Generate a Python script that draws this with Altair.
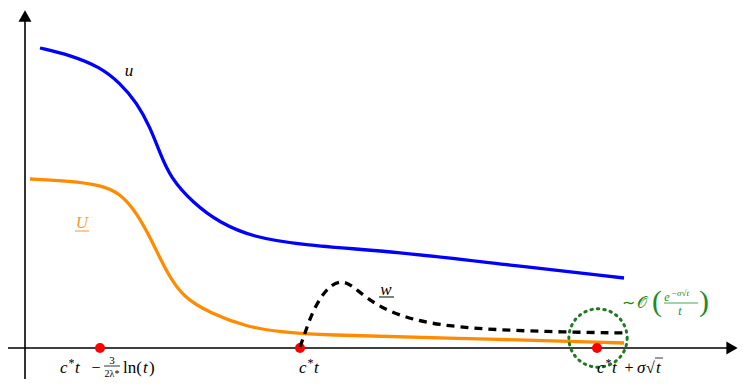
import altair as alt
import pandas as pd

# ---- data (coordinates: origin at axes crossing, 1 unit ~ 1 px) ----
u_x = [15, 45, 75, 95, 112, 125, 135, 145, 168, 195, 228, 275, 375, 475, 599]
u_y = [300, 293, 281, 265, 245, 221, 195, 171, 145, 125, 111, 103, 96, 84, 70]

U_x = [5, 45, 75, 95, 112, 128, 142, 158, 185, 222, 255, 295, 425, 599]
U_y = [169, 167, 163, 155, 135, 105, 75, 51, 35, 21, 16, 13, 10, 5]

w_x = [275, 280, 288, 302, 318, 332, 355, 388, 422, 472, 538, 599]
w_y = [1, 15, 38, 61, 69, 58, 40, 28, 22, 18, 16, 15]

pts_x = [75, 275, 572]
pts_y = [0, 0, 0]

circle_x = [573]
circle_y = [10]

X_DOM = [-17, 714]
Y_DOM = [-31, 340]

xs = alt.Scale(domain=X_DOM, nice=False, zero=False)
ys = alt.Scale(domain=Y_DOM, nice=False, zero=False)


def X(f="x"):
    return alt.X(f"{f}:Q", scale=xs, axis=None)


def Y(f="y"):
    return alt.Y(f"{f}:Q", scale=ys, axis=None)


def curve(xv, yv, color, dash=None):
    df = pd.DataFrame({"x": xv, "y": yv, "o": range(len(xv))})
    kw = dict(color=color, strokeWidth=3.3, interpolate="basis", clip=False)
    if dash:
        kw["strokeDash"] = dash
    return alt.Chart(df).mark_line(**kw).encode(x=X(), y=Y(), order="o:Q")


# axes
axis_df = pd.DataFrame({"x": [-17, 0], "x2": [706, 0], "y": [0, -31], "y2": [0, 330]})
axes = alt.Chart(axis_df).mark_rule(color="black", strokeWidth=1.6).encode(
    x=X(), x2="x2:Q", y=Y(), y2="y2:Q")
arr_r = alt.Chart(pd.DataFrame({"x": [707], "y": [0]})).mark_point(
    shape="triangle-right", size=170, filled=True, color="black", opacity=1).encode(x=X(), y=Y())
arr_u = alt.Chart(pd.DataFrame({"x": [0], "y": [332]})).mark_point(
    shape="triangle-up", size=170, filled=True, color="black", opacity=1).encode(x=X(), y=Y())

orange = curve(U_x, U_y, "#ff8c00")
blue = curve(u_x, u_y, "#0000ff")
dashed = curve(w_x, w_y, "black", dash=[8, 6])

points = alt.Chart(pd.DataFrame({"x": pts_x, "y": pts_y})).mark_point(
    shape="circle", size=100, filled=True, color="#ff0000", opacity=1).encode(x=X(), y=Y())

circ = alt.Chart(pd.DataFrame({"x": circle_x, "y": circle_y})).mark_point(
    shape="circle", size=3400, filled=False, color="#1e7a1e", strokeWidth=3,
    strokeDash=[1.5, 5], strokeCap="round", opacity=1).encode(x=X(), y=Y())

FONT = "Liberation Serif"


def txt(rows, size, color="black", style="italic", align="center"):
    df = pd.DataFrame(rows, columns=["x", "y", "t"])
    return alt.Chart(df).mark_text(
        font=FONT, fontSize=size, color=color, fontStyle=style, align=align,
        baseline="middle", clip=False).encode(x=X(), y=Y(), text="t:N")


def rules(rows, color, width=1):
    df = pd.DataFrame(rows, columns=["x", "x2", "y"])
    return alt.Chart(df).mark_rule(color=color, strokeWidth=width).encode(
        x=X(), x2="x2:Q", y=Y())


def cstar(x0, y0):
    return [
        txt([(x0, y0, "c")], 17, align="left"),
        txt([(x0 + 8.5, y0 + 5, "*")], 12, style="normal", align="left"),
        txt([(x0 + 15, y0, "t")], 17, align="left"),
    ]


green = "#228b22"
orange_txt = "#f59a2a"

labels = [
    txt([(104, 277, "u")], 17),
    txt([(57, 125, "U")], 17, color=orange_txt),
    rules([(50, 64, 117)], orange_txt),
    txt([(361, 58, "w")], 17),
    rules([(354, 369, 51)], "black"),
    # c*t - 3/(2λ*) ln(t)
    *cstar(35, -20),
    txt([(71, -20, "−")], 16, style="normal"),
    txt([(87, -13, "3")], 11, style="normal"),
    rules([(79, 95, -18)], "black", 0.8),
    txt([(87, -26, "2λ*")], 10, style="normal"),
    txt([(98, -20, "ln(")], 17, style="normal", align="left"),
    txt([(118, -20, "t")], 17, align="left"),
    txt([(124, -20, ")")], 17, style="normal", align="left"),
    # c*t
    *cstar(274, -20),
    # c*t + σ√t
    *cstar(572, -20),
    txt([(604, -20, "+")], 16, style="normal"),
    txt([(612, -20, "σ")], 17, align="left"),
    txt([(621, -20, "√")], 16, style="normal", align="left"),
    txt([(631, -20, "t")], 17, align="left"),
    rules([(630, 638, -10)], "black", 0.8),
    # green asymptotic label
    txt([(597, 45, "∼")], 16, color=green, style="normal", align="left"),
    txt([(612, 45, "𝒪")], 16, color=green, style="normal", align="left"),
    txt([(632, 46, "(")], 30, color=green, style="normal"),
    txt([(679, 46, ")")], 30, color=green, style="normal"),
    txt([(642, 51, "e")], 12, color=green),
    txt([(646, 55, "−σ√t")], 9, color=green, align="left"),
    rules([(639, 673, 45)], green, 0.8),
    txt([(655, 37, "t")], 12, color=green),
]

chart = alt.layer(axes, arr_r, arr_u, orange, blue, points, dashed, circ, *labels).properties(
    width=731, height=371, padding=0, autosize=alt.AutoSizeParams(type="none")
).configure_view(stroke=None)

chart.save("out.html", embed_options={"renderer": "svg", "actions": False})
